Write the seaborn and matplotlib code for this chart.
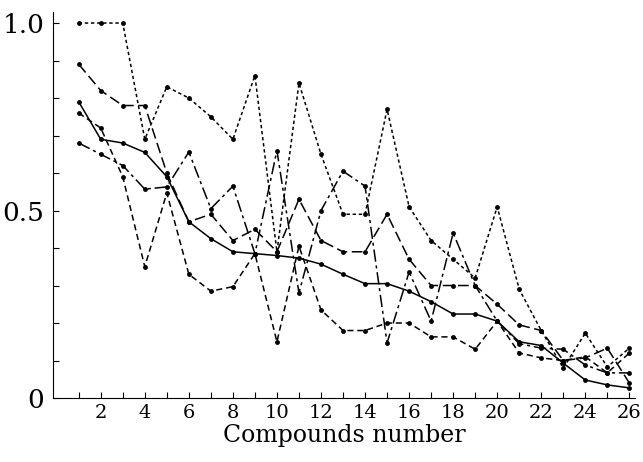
import numpy as np
import pandas as pd
import matplotlib
matplotlib.use("Agg")
import matplotlib.pyplot as plt
import seaborn as sns

compounds = list(range(1, 27))

# five curves
series_a = [1.00, 1.00, 1.00, 0.69, 0.83, 0.80, 0.75, 0.69, 0.86, 0.39,
            0.84, 0.65, 0.49, 0.49, 0.77, 0.51, 0.42, 0.37, 0.32, 0.51,
            0.29, 0.18, 0.08, 0.173, 0.083, 0.133]
series_b = [0.89, 0.82, 0.78, 0.78, 0.60, 0.47, 0.49, 0.42, 0.45, 0.39,
            0.53, 0.42, 0.39, 0.39, 0.49, 0.37, 0.30, 0.30, 0.30, 0.25,
            0.195, 0.18, 0.10, 0.107, 0.133, 0.04]
series_c = [0.79, 0.69, 0.68, 0.655, 0.59, 0.47, 0.425, 0.39, 0.385, 0.38,
            0.373, 0.357, 0.33, 0.305, 0.305, 0.285, 0.257, 0.224, 0.224, 0.205,
            0.15, 0.14, 0.093, 0.048, 0.035, 0.027]
series_d = [0.76, 0.72, 0.59, 0.35, 0.547, 0.33, 0.285, 0.297, 0.385, 0.15,
            0.405, 0.235, 0.18, 0.18, 0.20, 0.20, 0.163, 0.163, 0.13, 0.205,
            0.12, 0.107, 0.10, 0.11, 0.067, 0.12]
series_e = [0.68, 0.65, 0.62, 0.557, 0.563, 0.656, 0.505, 0.565, 0.385, 0.66,
            0.28, 0.50, 0.605, 0.565, 0.147, 0.336, 0.205, 0.44, 0.30, 0.205,
            0.145, 0.133, 0.13, 0.088, 0.067, 0.067]

names = ["A", "B", "C", "D", "E"]
values = [series_a, series_b, series_c, series_d, series_e]

df = pd.concat(
    [pd.DataFrame({"compound": compounds, "value": v, "series": n}) for n, v in zip(names, values)],
    ignore_index=True,
)

sns.set_style("ticks", {"axes.edgecolor": "black", "text.color": "black",
                        "xtick.color": "black", "ytick.color": "black",
                        "axes.labelcolor": "black"})
plt.rcParams["font.family"] = ["DejaVu Serif"]

fig = plt.figure(figsize=(6.43, 4.62), dpi=100)
ax = fig.add_axes([0.082, 0.1385, 0.906, 0.836])

line_dashes = {"A": (2.2, 1.8), "B": (7, 3), "C": "", "D": (4, 2.5), "E": (8, 2.5, 2, 2.5)}
sns.lineplot(
    data=df, x="compound", y="value", style="series",
    dashes=line_dashes, markers={n: "o" for n in names},
    color="black", linewidth=1.1, markersize=3.5, markeredgewidth=0,
    legend=False, ax=ax,
)

ax.set_xlim(-0.18, 26.27)
ax.set_ylim(0, 1.03)
sns.despine(ax=ax)

ax.set_xticks(compounds)
ax.set_xticklabels([str(c) if c % 2 == 0 else "" for c in compounds], fontsize=14)
ax.set_yticks([0, 0.5, 1.0])
ax.set_yticklabels(["0", "0.5", "1.0"], fontsize=19)
ax.set_yticks(np.arange(0.1, 1.0, 0.1), minor=True)
ax.tick_params(axis="both", which="both", direction="in", length=4, width=0.8, pad=6)
ax.tick_params(axis="x", pad=4)

ax.set_xlabel("Compounds number", fontsize=17, labelpad=2)
ax.set_ylabel("")

fig.savefig("out.png", dpi=100)
